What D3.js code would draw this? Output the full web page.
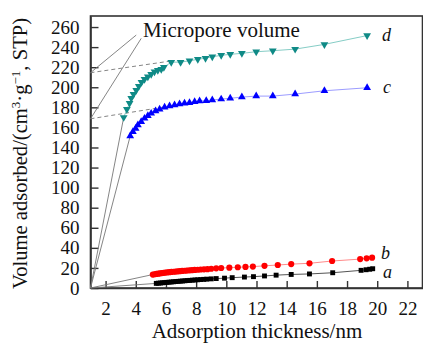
<!DOCTYPE html>
<html>
<head>
<meta charset="utf-8">
<script src="https://cdn.jsdelivr.net/npm/d3@7"></script>
<style>
  body { margin: 0; background: #fff; }
  text { font-family: "Liberation Serif", "Times New Roman", serif; fill: #111; }
</style>
</head>
<body>
<div id="chart"></div>
<script>
// series d (teal, down triangles)
const dX = [3.2, 3.41, 3.59, 3.70, 3.85, 4.03, 4.2, 4.38, 4.58, 4.8, 5.02, 5.24, 5.46, 5.69, 5.86, 6.35, 6.97, 7.56, 8.11, 8.62, 9.07, 9.66, 10.26, 11.03, 11.98, 13.08, 14.56, 16.5, 19.33]
const dY = [170, 178, 184, 189, 193, 197, 201, 205, 208, 210.5, 213, 215.5, 217, 218, 220, 225, 225, 226.4, 227.8, 229, 230.4, 231.8, 232.8, 233.8, 235.4, 236.4, 238, 242.7, 251.5]
// series c (blue, up triangles)
const cX = [3.63, 3.81, 3.99, 4.14, 4.36, 4.58, 4.8, 5.02, 5.31, 5.58, 5.91, 6.24, 6.57, 6.9, 7.23, 7.56, 7.9, 8.23, 8.67, 9.07, 9.66, 10.26, 11.03, 11.98, 13.08, 14.56, 16.5, 19.33]
const cY = [151.4, 155.7, 159, 162.4, 165.6, 169, 171.7, 174, 176.3, 178, 180, 181.3, 182.3, 183.3, 184, 184.6, 185.6, 186.3, 186.6, 187.3, 188.2, 189, 190.2, 191.2, 191.2, 193.2, 196.5, 199.5]
// series b (red, circles)
const bX = [5.13, 5.25, 5.37, 5.49, 5.61, 5.73, 5.85, 5.97, 6.1, 6.23, 6.36, 6.5, 6.64, 6.78, 6.92, 7.07, 7.22, 7.38, 7.55, 7.72, 7.9, 8.1, 8.3, 8.52, 8.75, 9.0, 9.33, 9.66, 10.2, 10.76, 11.27, 11.76, 12.53, 13.41, 14.3, 15.51, 17.01, 18.87, 19.3, 19.66]
const bY = [13.4, 13.7, 14.0, 14.3, 14.6, 14.9, 15.1, 15.4, 15.6, 15.8, 16.0, 16.2, 16.4, 16.6, 16.8, 17.0, 17.2, 17.4, 17.6, 17.8, 18.0, 18.2, 18.4, 18.6, 18.8, 19.2, 19.6, 19.9, 20.3, 20.7, 21.0, 21.3, 22.1, 22.9, 23.8, 24.6, 26.9, 28.8, 29.6, 30.2]
// series a (black, squares)
const aX = [5.36, 5.5, 5.64, 5.78, 5.92, 6.06, 6.2, 6.35, 6.5, 6.65, 6.8, 6.95, 7.1, 7.26, 7.42, 7.58, 7.75, 7.92, 8.1, 8.3, 8.5, 8.7, 9.0, 9.33, 9.88, 10.39, 11.2, 11.8, 12.53, 13.3, 14.3, 15.51, 17.05, 18.93, 19.26, 19.5, 19.7]
const aY = [4.6, 4.8, 5.0, 5.2, 5.4, 5.6, 5.8, 6.0, 6.2, 6.4, 6.6, 6.8, 7.0, 7.2, 7.4, 7.6, 7.8, 8.0, 8.2, 8.4, 8.6, 8.8, 9.1, 9.4, 9.8, 10.3, 10.9, 11.3, 12.0, 12.8, 13.5, 14.0, 15.2, 17.6, 18.2, 18.7, 19.2]

const xTicks = [2, 4, 6, 8, 10, 12, 14, 16, 18, 20, 22]
const yTicks = [0, 20, 40, 60, 80, 100, 120, 140, 160, 180, 200, 220, 240, 260]

// extrapolated (dashed) lines and the micropore leader lines
const dashLines = [[[1, 214.5], [6.25, 226]], [[1, 168.6], [5.95, 180.5]]]
const leaderLines = [[[4.03, 252], [1, 214.5]], [[4.36, 248.7], [1, 168.6]]]

const width = 423, height = 344

const svg = d3.select("#chart").append("svg")
    .attr("width", width)
    .attr("height", height)

const x = d3.scaleLinear().domain([1, 23]).range([90.5, 422.5])
const y = d3.scaleLinear().domain([0, 271]).range([288, 16])

const zip = (xs, ys) => xs.map((v, i) => [v, ys[i]])
const line = d3.line().x(d => x(d[0])).y(d => y(d[1]))

const series = [
    { name: "d", pts: zip(dX, dY), color: "#0f8a86", lineColor: "#86cdc6", shape: "down" },
    { name: "c", pts: zip(cX, cY), color: "#0000ff", lineColor: "#9c9cff", shape: "up" },
    { name: "b", pts: zip(bX, bY), color: "#ff0000", lineColor: "#ff8a8a", shape: "circle" },
    { name: "a", pts: zip(aX, aY), color: "#000000", lineColor: "#555555", shape: "square" }
]

// frame
svg.append("rect")
    .attr("x", x(1)).attr("y", y(271))
    .attr("width", x(23) - x(1)).attr("height", y(0) - y(271))
    .attr("fill", "none")
    .attr("stroke", "#333")
    .attr("stroke-width", 1.6)

// axes, ticks inward
const xAxis = svg.append("g")
    .attr("transform", `translate(0,${y(0)})`)
    .call(d3.axisBottom(x).tickValues(xTicks).tickSizeInner(-7).tickSizeOuter(0).tickPadding(14))
const yAxis = svg.append("g")
    .attr("transform", `translate(${x(1)},0)`)
    .call(d3.axisLeft(y).tickValues(yTicks).tickSizeInner(-8).tickSizeOuter(0).tickPadding(11))

;[xAxis, yAxis].forEach(g => {
    g.select(".domain").attr("stroke", "#333").attr("stroke-width", 1.6)
    g.selectAll(".tick line").attr("stroke", "#333").attr("stroke-width", 1.4)
    g.selectAll(".tick text")
        .attr("font-family", "Liberation Serif, serif")
        .attr("font-size", 19)
        .attr("fill", "#111")
})

// construction lines
svg.append("g").selectAll("path")
    .data(dashLines)
    .enter().append("path")
    .attr("d", line)
    .attr("fill", "none")
    .attr("stroke", "#777")
    .attr("stroke-width", 0.9)
    .attr("stroke-dasharray", "4,3")

svg.append("g").selectAll("path")
    .data(leaderLines)
    .enter().append("path")
    .attr("d", line)
    .attr("fill", "none")
    .attr("stroke", "#777")
    .attr("stroke-width", 0.9)

// lines from origin to first point of each curve
svg.append("g").selectAll("path")
    .data(series)
    .enter().append("path")
    .attr("d", s => line([[1, 0], s.pts[0]]))
    .attr("fill", "none")
    .attr("stroke", "#777")
    .attr("stroke-width", 0.9)

// series lines
svg.append("g").selectAll("path")
    .data(series)
    .enter().append("path")
    .attr("d", s => line(s.pts))
    .attr("fill", "none")
    .attr("stroke", s => s.lineColor)
    .attr("stroke-width", 1)

// markers
const symbolFor = {
    up: d3.symbol().type(d3.symbolTriangle).size(26),
    down: d3.symbol().type(d3.symbolTriangle).size(26),
    circle: d3.symbol().type(d3.symbolCircle).size(30),
    square: d3.symbol().type(d3.symbolSquare).size(24)
}

series.forEach(s => {
    svg.append("g").selectAll("path")
        .data(s.pts)
        .enter().append("path")
        .attr("d", symbolFor[s.shape])
        .attr("transform", d => `translate(${x(d[0])},${y(d[1])})` + (s.shape == "down" ? " rotate(180)" : ""))
        .attr("fill", s.color)
})

// series letters
const letterPos = { d: [382, 41], c: [383, 93], b: [381, 259], a: [383, 278] }
svg.append("g").selectAll("text")
    .data(series)
    .enter().append("text")
    .attr("x", s => letterPos[s.name][0])
    .attr("y", s => letterPos[s.name][1])
    .attr("font-size", 18)
    .attr("font-style", "italic")
    .text(s => s.name)

svg.append("text")
    .attr("x", 143)
    .attr("y", 37)
    .attr("font-size", 21)
    .text("Micropore volume")

// axis titles
svg.append("text")
    .attr("x", 257)
    .attr("y", 338)
    .attr("text-anchor", "middle")
    .attr("font-size", 21)
    .text("Adsorption thickness/nm")

const yTitle = svg.append("text")
    .attr("transform", "translate(27,153.5) rotate(-90)")
    .attr("text-anchor", "middle")
    .attr("font-size", 20.6)
yTitle.append("tspan").text("Volume adsorbed/(cm")
yTitle.append("tspan").attr("baseline-shift", "super").attr("font-size", 13).text("3")
yTitle.append("tspan").text("·g")
yTitle.append("tspan").attr("baseline-shift", "super").attr("font-size", 13).text("−1")
yTitle.append("tspan").text(", STP)")
</script>
</body>
</html>
